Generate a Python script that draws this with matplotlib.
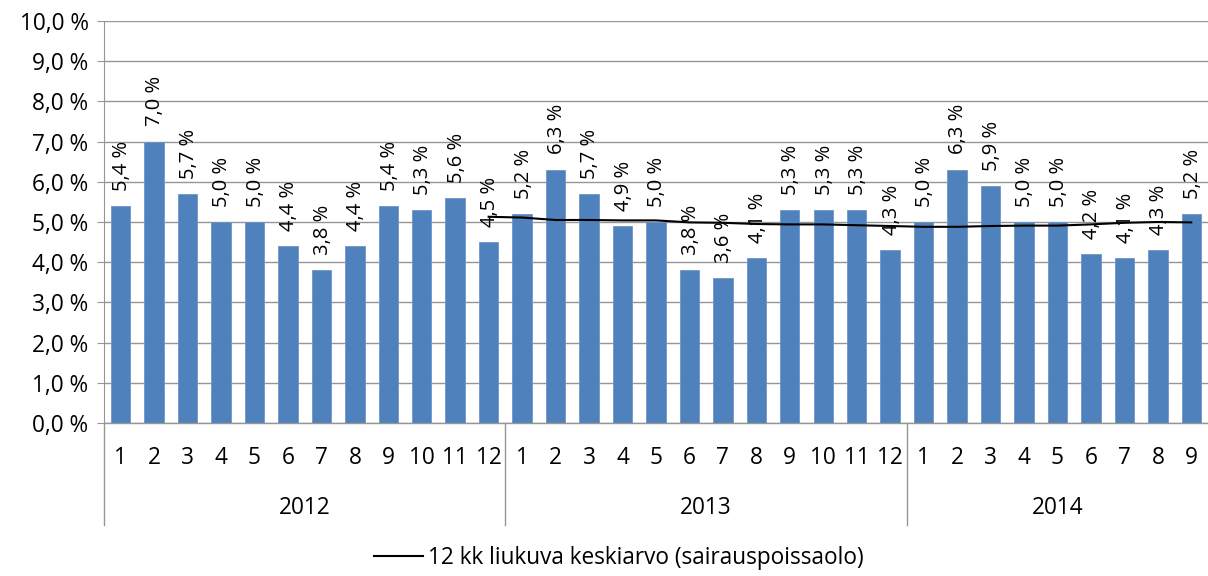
import matplotlib.pyplot as plt
import matplotlib.transforms as mtransforms

months = ["1", "2", "3", "4", "5", "6", "7", "8", "9", "10", "11", "12",
          "1", "2", "3", "4", "5", "6", "7", "8", "9", "10", "11", "12",
          "1", "2", "3", "4", "5", "6", "7", "8", "9"]
years = ["2012", "2013", "2014"]
year_counts = [12, 12, 9]

absence = [5.4, 7.0, 5.7, 5.0, 5.0, 4.4, 3.8, 4.4, 5.4, 5.3, 5.6, 4.5,
           5.2, 6.3, 5.7, 4.9, 5.0, 3.8, 3.6, 4.1, 5.3, 5.3, 5.3, 4.3,
           5.0, 6.3, 5.9, 5.0, 5.0, 4.2, 4.1, 4.3, 5.2]

# 12 kk liukuva keskiarvo, alkaa 2012/12
avg_start = 11
moving_avg = [5.13, 5.11, 5.05, 5.05, 5.04, 5.04, 4.99, 4.98, 4.95, 4.94, 4.94,
              4.92, 4.90, 4.88, 4.88, 4.90, 4.91, 4.91, 4.94, 4.98, 5.00, 4.99]

plt.rcParams["font.family"] = ["Open Sans", "DejaVu Sans"]
fs = 16.3

fig = plt.figure(figsize=(12.08, 5.76), dpi=100)
ax = fig.add_axes([0.086, 0.2656, 0.914, 0.698])

x = list(range(len(absence)))
ax.bar(x, absence, width=0.58, color="#4F81BD", edgecolor="#6E96C8", lw=0.6, zorder=2)

ax.plot(range(avg_start, avg_start + len(moving_avg)), moving_avg, color="black", lw=1.5, zorder=3,
        label="12 kk liukuva keskiarvo (sairauspoissaolo)")

for xi, v in zip(x, absence):
    ax.annotate(f"{v:.1f} %".replace(".", ","), (xi, v), xytext=(1, 11), textcoords="offset points",
                rotation=90, ha="center", va="bottom", fontsize=14.5, zorder=4)

ax.set_xlim(-0.5, len(absence) - 0.5)
ax.set_ylim(0, 10)
ax.set_yticks(range(0, 11))
ax.set_yticklabels([f"{i},0 %" for i in range(0, 11)], fontsize=fs)
ax.grid(axis="y", color="#969696", lw=1, zorder=0)
ax.set_axisbelow(True)

for s in ["top", "right", "bottom"]:
    ax.spines[s].set_visible(False)
ax.spines["left"].set_color("#969696")
ax.tick_params(axis="y", length=5, color="#969696", pad=6)
ax.set_xticks([])

# kaksitasoinen x-akseli
trans = mtransforms.blended_transform_factory(ax.transData, ax.transAxes)
for xi, m in zip(x, months):
    ax.text(xi, -0.087, m, transform=trans, ha="center", va="center", fontsize=fs)

pos = -0.5
ax.plot([pos, pos], [0, -0.254], transform=trans, color="#969696", lw=1, clip_on=False)
for yr, n in zip(years, year_counts):
    ax.text(pos + n / 2, -0.211, yr, transform=trans, ha="center", va="center", fontsize=fs)
    pos += n
    if pos < len(absence) - 0.5:
        ax.plot([pos, pos], [0, -0.254], transform=trans, color="#969696", lw=1, clip_on=False)
ax.plot([-0.5, len(absence) - 0.5], [0, 0], transform=trans, color="#969696", lw=1, clip_on=False)

fig.legend(loc="lower center", bbox_to_anchor=(0.512, -0.025), frameon=False, fontsize=fs,
           handlelength=2.2, handletextpad=0.2)

fig.savefig("out.png", dpi=100)
